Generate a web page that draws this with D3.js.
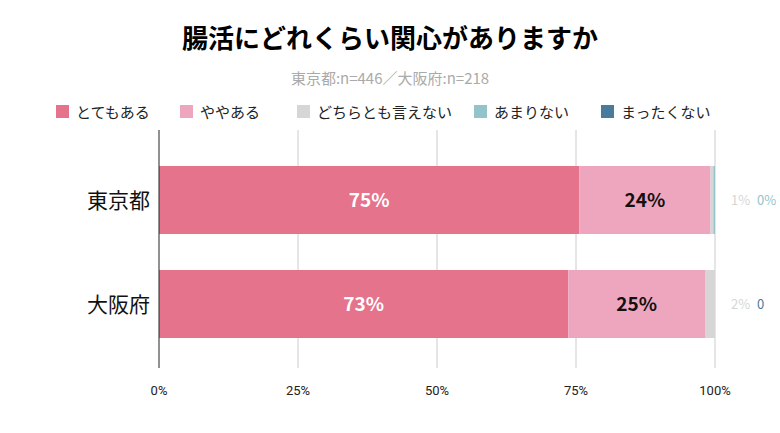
<!DOCTYPE html>
<html><head><meta charset="utf-8">
<script src="https://cdn.jsdelivr.net/npm/d3@7"></script>
<style>body{margin:0;background:#fff;font-family:"Noto Sans CJK JP",Roboto,sans-serif}</style>
</head><body><div id="chart"></div>
<script>
const categories = ["東京都", "大阪府"];
const seriesNames = ["とてもある", "ややある", "どちらとも言えない", "あまりない", "まったくない"];
const colors = ["#e5738c", "#eda6be", "#d6d6d6", "#93c3cb", "#4a7b9d"];
const values = [
  [75.6, 23.6, 0.5, 0.3, 0],
  [73.6, 24.6, 1.8, 0, 0]
];
const labels = [
  ["75%", "24%", "1%", "0%", ""],
  ["73%", "25%", "2%", "0", ""]
];
const ticks = [0, 25, 50, 75, 100];

const width = 780, height = 433;
const svg = d3.select("#chart").append("svg").attr("width", width).attr("height", height);

svg.append("text").attr("x", 390).attr("y", 48).attr("text-anchor", "middle")
  .style("font-size", "26px").style("font-weight", "bold").text("腸活にどれくらい関心がありますか");
svg.append("text").attr("x", 390).attr("y", 84).attr("text-anchor", "middle")
  .style("font-size", "15px").attr("fill", "#aaa").text("東京都:n=446／大阪府:n=218");

// legend
const legendX = [56, 180, 297, 474, 601];
seriesNames.forEach((s, i) => {
  svg.append("rect").attr("x", legendX[i]).attr("y", 105).attr("width", 13).attr("height", 13).attr("fill", colors[i]);
  svg.append("text").attr("x", legendX[i] + 20).attr("y", 118).style("font-size", "15px").attr("fill", "#222").text(s);
});

const x = d3.scaleLinear().domain([0, 100]).range([159, 715]);
const y = d3.scaleBand().domain(categories).range([132, 372]).paddingInner(0.346).paddingOuter(0.327);

svg.append("g").selectAll("line").data(ticks.slice(1)).join("line")
  .attr("x1", d => x(d)).attr("x2", d => x(d)).attr("y1", 130).attr("y2", 368)
  .attr("stroke", "#ccc");

categories.forEach((c, ci) => {
  let acc = 0;
  values[ci].forEach((v, si) => {
    svg.append("rect").attr("x", x(acc)).attr("y", y(c)).attr("width", x(acc + v) - x(acc))
      .attr("height", y.bandwidth()).attr("fill", colors[si]);
    const cy = y(c) + y.bandwidth() / 2 + 7;
    if (si < 2) {
      svg.append("text").attr("x", x(acc + v / 2)).attr("y", cy).attr("text-anchor", "middle")
        .style("font-size", "19px").style("font-weight", "bold")
        .attr("fill", si === 0 ? "#fff" : "#111").text(labels[ci][si]);
    } else if (labels[ci][si]) {
      svg.append("text").attr("x", si === 2 ? 731 : 757).attr("y", cy - 2)
        .style("font-size", "13px").attr("fill", si === 2 ? "#d6d6d6" : (ci === 0 ? colors[3] : colors[4]))
        .text(labels[ci][si]);
    }
    acc += v;
  });
  svg.append("text").attr("x", 150).attr("y", y(c) + y.bandwidth() / 2 + 8).attr("text-anchor", "end")
    .style("font-size", "21px").attr("fill", "#111").text(c);
});

svg.append("line").attr("x1", 159).attr("x2", 159).attr("y1", 130).attr("y2", 368).attr("stroke", "#222");

svg.append("g").selectAll("text").data(ticks).join("text")
  .attr("x", d => x(d)).attr("y", 395).attr("text-anchor", "middle")
  .style("font-size", "13px").style("font-family", "Roboto").attr("fill", "#222").text(d => d + "%");
</script></body></html>
